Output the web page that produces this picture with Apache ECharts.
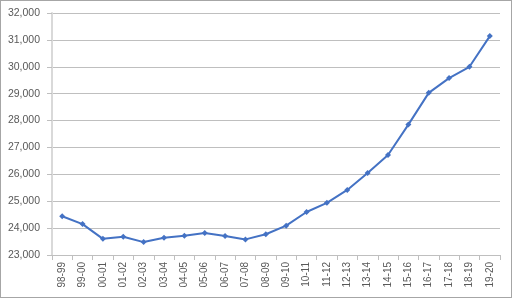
<!DOCTYPE html>
<html><head><meta charset="utf-8">
<script src="https://cdn.jsdelivr.net/npm/echarts@6/dist/echarts.min.js"></script>
<style>html,body{margin:0;padding:0;background:#fff}#c{width:512px;height:298px;box-sizing:border-box;border:1px solid #A6A6A6}</style>
</head><body><div id="c"></div>
<script>
const categories = ["98-99","99-00","00-01","01-02","02-03","03-04","04-05","05-06","06-07","07-08","08-09","09-10","10-11","11-12","12-13","13-14","14-15","15-16","16-17","17-18","18-19","19-20"];
const values = [24440,24150,23600,23680,23480,23640,23720,23820,23710,23580,23770,24090,24600,24940,25420,26050,26720,27850,29030,29580,30000,31140];
const yMin = 23000, yMax = 32000, yStep = 1000;
const chart = echarts.init(document.getElementById('c'), null, {renderer:'canvas'});
chart.setOption({
  animation:false,
  grid:{left:51,right:11,top:12,bottom:42,containLabel:false},
  xAxis:{type:'category',data:categories,boundaryGap:true,
    axisLine:{lineStyle:{color:'#BFBFBF'}},
    axisTick:{show:true,alignWithLabel:false,length:5,lineStyle:{color:'#BFBFBF'}},
    axisLabel:{rotate:90,color:'#595959',fontSize:10,fontFamily:'Liberation Sans, Arial',margin:7,interval:0}},
  yAxis:{type:'value',min:yMin,max:yMax,interval:yStep,
    axisLine:{show:true,lineStyle:{color:'#D9D9D9',width:2}},
    axisTick:{show:true,length:5,lineStyle:{color:'#BFBFBF'}},
    splitLine:{lineStyle:{color:'#BFBFBF'}},
    axisLabel:{color:'#595959',fontSize:10.5,fontFamily:'Liberation Sans, Arial',margin:12,
      formatter:v=>v.toLocaleString('en-US')}},
  series:[{type:'line',data:values,symbol:'diamond',symbolSize:6,
    lineStyle:{color:'#4472C4',width:2},itemStyle:{color:'#4472C4'}}]
});
</script></body></html>
